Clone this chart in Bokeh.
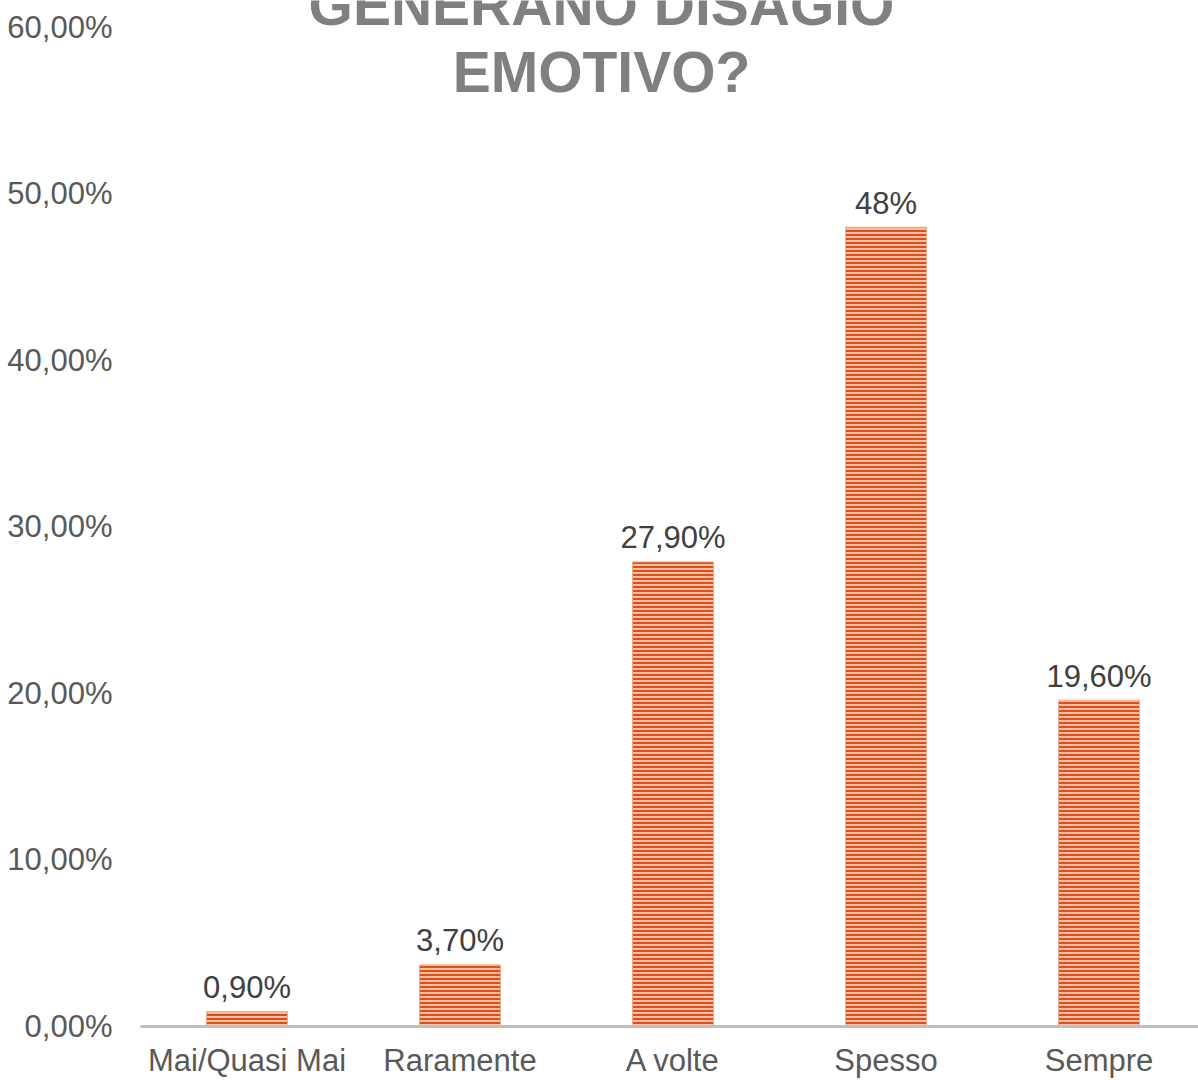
from bokeh.plotting import figure
from bokeh.models import FixedTicker, Label, ColumnDataSource
from bokeh.core.properties import value
from bokeh.embed import file_html
from bokeh.resources import INLINE

categories = ["Mai/Quasi Mai", "Raramente", "A volte", "Spesso", "Sempre"]
values = [0.9, 3.7, 27.9, 48.0, 19.6]
value_labels = ["0,90%", "3,70%", "27,90%", "48%", "19,60%"]
y_ticks = [0, 10, 20, 30, 40, 50, 60]
y_tick_labels = ["0,00%", "10,00%", "20,00%", "30,00%", "40,00%", "50,00%", "60,00%"]
title_lines = ["GENERANO DISAGIO", "EMOTIVO?"]

xs = list(range(len(categories)))
src = ColumnDataSource(dict(x=xs, top=values, lab=value_labels))

FONT = "Liberation Sans"

p = figure(width=1198, height=1080, output_backend="svg", toolbar_location=None,
           x_range=(-0.5, 4.467), y_range=(0, 61.62),
           min_border_left=140, min_border_right=0, min_border_top=0, min_border_bottom=0)
p.outline_line_color = None
p.xgrid.grid_line_color = None
p.ygrid.grid_line_color = None
p.background_fill_color = "white"
p.border_fill_color = "white"

p.vbar(x="x", top="top", width=0.38, source=src,
       fill_color="#f6c4a8", line_color="#f0a888", line_width=1,
       hatch_pattern="horizontal_line", hatch_scale=4, hatch_weight=2.2,
       hatch_color="#dc4f1c")

p.text(x="x", y="top", text="lab", source=src, text_align="center",
       text_baseline="alphabetic", y_offset=-24, text_font_size="31px",
       text_color="#404040", text_font=value(FONT))

# y axis
p.yaxis.ticker = FixedTicker(ticks=y_ticks)
p.yaxis.major_label_overrides = {t: l for t, l in zip(y_ticks, y_tick_labels)}
p.yaxis.axis_line_color = None
p.yaxis.major_tick_line_color = None
p.yaxis.minor_tick_line_color = None
p.yaxis.major_label_standoff = 22
p.yaxis.major_label_text_font_size = "31px"
p.yaxis.major_label_text_color = "#595959"
p.yaxis.major_label_text_font = FONT

# x axis
p.xaxis.ticker = FixedTicker(ticks=xs)
p.xaxis.major_label_overrides = {i: c for i, c in enumerate(categories)}
p.xaxis.axis_line_color = "#bfbfbf"
p.xaxis.axis_line_width = 3
p.xaxis.major_tick_line_color = None
p.xaxis.minor_tick_line_color = None
p.xaxis.major_label_standoff = 10
p.xaxis.major_label_text_font_size = "31px"
p.xaxis.major_label_text_color = "#595959"
p.xaxis.major_label_text_font = FONT

# title lines (partly clipped at top like the reference)
ys = [1022, 955]
for line, yy in zip(title_lines, ys):
    p.add_layout(Label(x=461, y=yy, x_units="screen", y_units="screen", text=line,
                       text_align="center", text_baseline="alphabetic",
                       text_font_size="57px", text_font_style="bold",
                       text_color="#808080", text_font=FONT))

open("out.html", "w").write(file_html(p, INLINE))
